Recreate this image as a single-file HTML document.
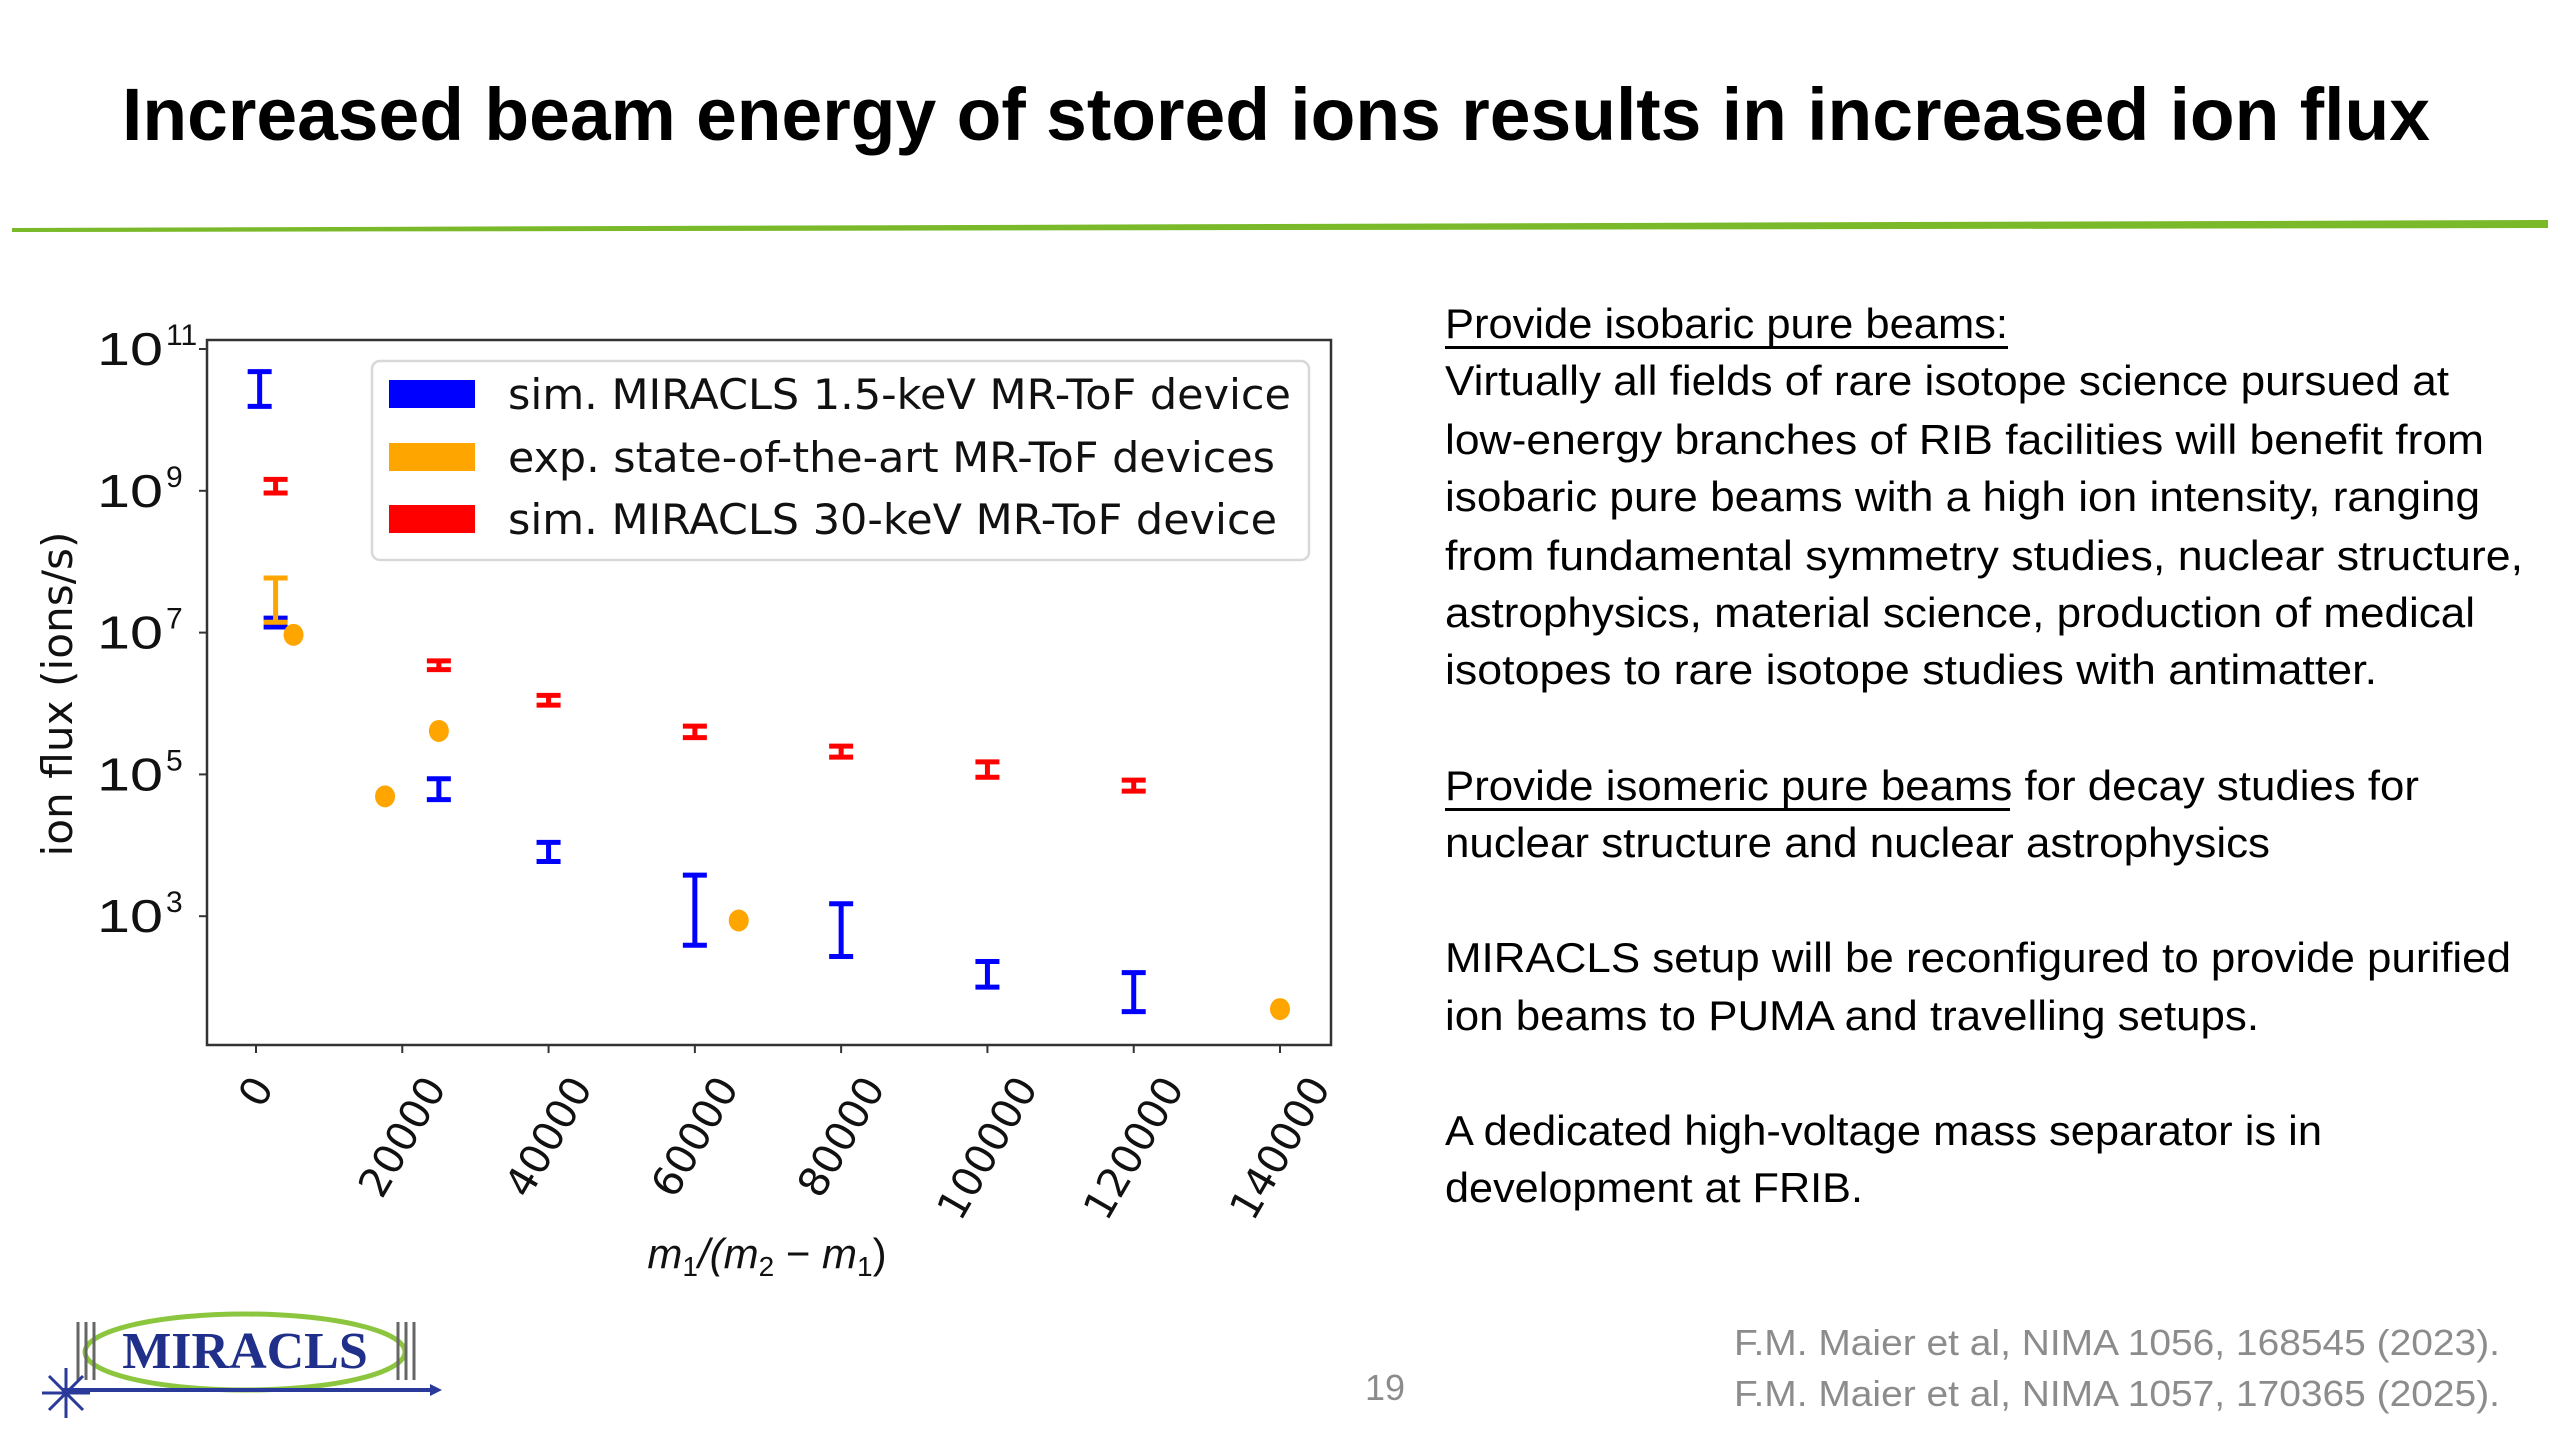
<!DOCTYPE html>
<html><head><meta charset="utf-8"><style>
html,body{margin:0;padding:0;background:#fff;}
svg{display:block;font-family:"Liberation Sans",sans-serif;}
</style></head><body>
<svg id="page" width="2560" height="1440" viewBox="0 0 2560 1440" xmlns="http://www.w3.org/2000/svg">
<rect width="2560" height="1440" fill="#fff"/>
<text x="122" y="140" font-size="74" font-weight="bold" fill="#000" textLength="2308" lengthAdjust="spacingAndGlyphs">Increased beam energy of stored ions results in increased ion flux</text>
<polygon points="12,228 2548,220 2548,228 12,232" fill="#7ab929"/>

<g id="chart">
  <rect x="207" y="340" width="1124" height="705" fill="none" stroke="#333" stroke-width="2.5"/>
  <g id="yticks"></g>
  <g id="xticks"></g>
  <g id="marks"></g>
  <text transform="translate(72,694) rotate(-90)" text-anchor="middle" font-size="42" fill="#111" font-family="DejaVu Sans, sans-serif" textLength="325" lengthAdjust="spacingAndGlyphs">ion flux (ions/s)</text>
  <text x="767" y="1268" text-anchor="middle" font-size="42" fill="#111" font-style="italic">m<tspan font-size="28" dy="8" font-style="normal">1</tspan><tspan dy="-8">/(m</tspan><tspan font-size="28" dy="8" font-style="normal">2</tspan><tspan dy="-8" font-style="normal"> − </tspan><tspan>m</tspan><tspan font-size="28" dy="8" font-style="normal">1</tspan><tspan dy="-8" font-style="normal">)</tspan></text>
  <g>
    <rect x="372" y="361" width="937" height="199" rx="8" fill="#fff" fill-opacity="0.9" stroke="#d8d8d8" stroke-width="2.5"/>
    <rect x="389" y="380" width="86" height="28" fill="#0000ff"/>
    <text x="508" y="409" font-size="42" fill="#111" font-family="DejaVu Sans, sans-serif" textLength="783" lengthAdjust="spacingAndGlyphs">sim. MIRACLS 1.5-keV MR-ToF device</text>
    <rect x="389" y="443" width="86" height="28" fill="#ffa500"/>
    <text x="508" y="472" font-size="42" fill="#111" font-family="DejaVu Sans, sans-serif" textLength="767" lengthAdjust="spacingAndGlyphs">exp. state-of-the-art MR-ToF devices</text>
    <rect x="389" y="505" width="86" height="28" fill="#ff0000"/>
    <text x="508" y="534" font-size="42" fill="#111" font-family="DejaVu Sans, sans-serif" textLength="769" lengthAdjust="spacingAndGlyphs">sim. MIRACLS 30-keV MR-ToF device</text>
  </g>
</g>

<g font-size="42" fill="#000">
  <text x="1445" y="338" textLength="563" lengthAdjust="spacingAndGlyphs">Provide isobaric pure beams:</text>
  <rect x="1445" y="346" width="563" height="3" fill="#000"/>
  <text x="1445" y="395" textLength="1004" lengthAdjust="spacingAndGlyphs">Virtually all fields of rare isotope science pursued at</text>
  <text x="1445" y="454" textLength="1039" lengthAdjust="spacingAndGlyphs">low-energy branches of RIB facilities will benefit from</text>
  <text x="1445" y="511" textLength="1035" lengthAdjust="spacingAndGlyphs">isobaric pure beams with a high ion intensity, ranging</text>
  <text x="1445" y="570" textLength="1078" lengthAdjust="spacingAndGlyphs">from fundamental symmetry studies, nuclear structure,</text>
  <text x="1445" y="627" textLength="1030" lengthAdjust="spacingAndGlyphs">astrophysics, material science, production of medical</text>
  <text x="1445" y="684" textLength="932" lengthAdjust="spacingAndGlyphs">isotopes to rare isotope studies with antimatter.</text>
  <text x="1445" y="800" textLength="974" lengthAdjust="spacingAndGlyphs">Provide isomeric pure beams for decay studies for</text>
  <rect x="1445" y="808" width="565" height="3" fill="#000"/>
  <text x="1445" y="857" textLength="825" lengthAdjust="spacingAndGlyphs">nuclear structure and nuclear astrophysics</text>
  <text x="1445" y="972" textLength="1066" lengthAdjust="spacingAndGlyphs">MIRACLS setup will be reconfigured to provide purified</text>
  <text x="1445" y="1030" textLength="814" lengthAdjust="spacingAndGlyphs">ion beams to PUMA and travelling setups.</text>
  <text x="1445" y="1145" textLength="877" lengthAdjust="spacingAndGlyphs">A dedicated high-voltage mass separator is in</text>
  <text x="1445" y="1202" textLength="418" lengthAdjust="spacingAndGlyphs">development at FRIB.</text>
</g>

<g font-size="36" fill="#8c8c8c">
  <text x="1734" y="1355" textLength="766" lengthAdjust="spacingAndGlyphs">F.M. Maier et al, NIMA 1056, 168545 (2023).</text>
  <text x="1734" y="1406" textLength="766" lengthAdjust="spacingAndGlyphs">F.M. Maier et al, NIMA 1057, 170365 (2025).</text>
</g>
<text x="1385" y="1400" text-anchor="middle" font-size="36" fill="#8c8c8c">19</text>

<g>
  <ellipse cx="245" cy="1352" rx="160" ry="38" fill="none" stroke="#8cc63f" stroke-width="5"/>
  <g stroke="#666" stroke-width="3">
    <line x1="78" y1="1322" x2="78" y2="1380"/><line x1="86" y1="1322" x2="86" y2="1380"/><line x1="94" y1="1322" x2="94" y2="1380"/>
    <line x1="398" y1="1322" x2="398" y2="1380"/><line x1="406" y1="1322" x2="406" y2="1380"/><line x1="414" y1="1322" x2="414" y2="1380"/>
  </g>
  <text x="245" y="1368" text-anchor="middle" font-family="Liberation Serif, serif" font-weight="bold" font-size="52" fill="#1f2f8a">MIRACLS</text>
  <line x1="62" y1="1390" x2="430" y2="1390" stroke="#2a3a9a" stroke-width="4"/>
  <polygon points="430,1384 442,1390 430,1396" fill="#2a3a9a"/>
  <g stroke="#2a3a9a" stroke-width="3">
    <line x1="66" y1="1368" x2="66" y2="1418"/><line x1="42" y1="1393" x2="90" y2="1393"/>
    <line x1="49" y1="1376" x2="83" y2="1410"/><line x1="49" y1="1410" x2="83" y2="1376"/>
  </g>
</g>
</svg>
<script>
// ---- chart data ----
const xTickValues = [0, 20000, 40000, 60000, 80000, 100000, 120000, 140000];
const xTickLabels = ["0", "20000", "40000", "60000", "80000", "100000", "120000", "140000"];
const yTickExps = [3, 5, 7, 9, 11];
const blueX = [500, 2680, 25000, 40000, 60000, 80000, 100000, 120000];
const blueHi = [4.8e10, 1.6e7, 8.7e4, 1.1e4, 3.8e3, 1.5e3, 230, 160];
const blueLo = [1.55e10, 1.2e7, 4.4e4, 5.9e3, 390, 270, 100, 45];
const redX = [2680, 25000, 40000, 60000, 80000, 100000, 120000];
const redHi = [1.45e9, 4.0e6, 1.3e6, 4.8e5, 2.5e5, 1.5e5, 8.3e4];
const redLo = [9.3e8, 3.0e6, 9.5e5, 3.3e5, 1.75e5, 9.1e4, 5.8e4];
const orangeBarX = [2680];
const orangeBarHi = [5.9e7];
const orangeBarLo = [1.4e7];
const orangeDotX = [5130, 17640, 25000, 66000, 140000];
const orangeDotY = [9.3e6, 4.9e4, 4.1e5, 870, 49];

const NS = "http://www.w3.org/2000/svg";
function xs(v){ return 256 + v / 140000 * 1024; }
function ys(v){ return 349 + (11 - Math.log10(v)) * 70.9; }
function mk(tag, attrs, parent){
  const e = document.createElementNS(NS, tag);
  for (const k in attrs) e.setAttribute(k, attrs[k]);
  parent.appendChild(e); return e;
}
const yt = document.getElementById('yticks');
yTickExps.forEach(function(ex){
  const y = ys(Math.pow(10, ex));
  const l = mk('line', {x1:199, x2:207, y1:y, y2:y, stroke:'#333', 'stroke-width':2}, yt);
  
  
  const t = mk('text', {x:97, y:y+16, 'font-size':46, fill:'#111', textLength:66, lengthAdjust:'spacingAndGlyphs'}, yt);
  
  
  t.textContent = '10';
  const s = mk('text', {x:166, y:y-4, 'font-size':30, fill:'#111'}, yt);
  
  
  s.textContent = String(ex);
});
const xt = document.getElementById('xticks');
xTickValues.forEach(function(v, i){
  const x = xs(v);
  const l = mk('line', {x1:x, x2:x, y1:1045, y2:1053, stroke:'#333', 'stroke-width':2}, xt);
  
  
  const t = mk('text', {'text-anchor':'middle', 'dominant-baseline':'central', 'font-size':41, fill:'#111', 'font-family':'DejaVu Sans, sans-serif'}, xt);
  
  
  t.textContent = xTickLabels[i];
  const len = t.getComputedTextLength();
  const cy = 1070 + (len * 0.866 + 41 * 0.5) / 2;
  t.setAttribute('transform', 'translate(' + x + ',' + cy + ') rotate(-60)');
});
const mg = document.getElementById('marks');
function errbar(x, lo, hi, color, name){
  const g = mk('g', {stroke:color, 'stroke-width':5, fill:'none'}, mg);
  
  
  const X = xs(x), Y1 = ys(hi), Y2 = ys(lo);
  mk('line', {x1:X, x2:X, y1:Y1, y2:Y2}, g);
  mk('line', {x1:X-12, x2:X+12, y1:Y1, y2:Y1}, g);
  mk('line', {x1:X-12, x2:X+12, y1:Y2, y2:Y2}, g);
}
blueX.forEach(function(x, i){ errbar(x, blueLo[i], blueHi[i], '#0000ff', 'blue-errorbar'); });
redX.forEach(function(x, i){ errbar(x, redLo[i], redHi[i], '#ff0000', 'red-errorbar'); });
orangeBarX.forEach(function(x, i){ errbar(x, orangeBarLo[i], orangeBarHi[i], '#ffa500', 'orange-errorbar'); });
orangeDotX.forEach(function(x, i){
  const c = mk('ellipse', {cx:xs(x), cy:ys(orangeDotY[i]), rx:10, ry:11, fill:'#ffa500'}, mg);
  
  
});
</script>
</body></html>
